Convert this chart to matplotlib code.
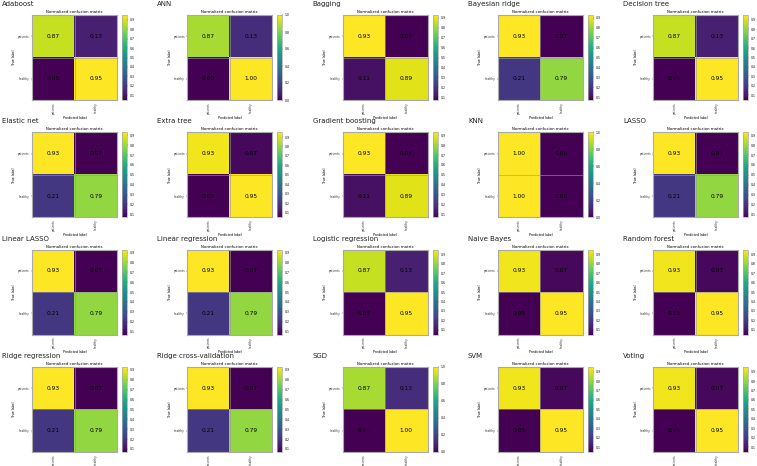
import matplotlib
matplotlib.use("Agg")
import matplotlib.pyplot as plt
import numpy as np

models = ["Adaboost", "ANN", "Bagging", "Bayesian ridge", "Decision tree",
          "Elastic net", "Extra tree", "Gradient boosting", "KNN", "LASSO",
          "Linear LASSO", "Linear regression", "Logistic regression", "Naive Bayes", "Random forest",
          "Ridge regression", "Ridge cross-validation", "SGD", "SVM", "Voting"]

# rows: true label (patients, healthy); columns: predicted label
cm_adaboost = [[0.87, 0.13], [0.05, 0.95]]
cm_ann = [[0.87, 0.13], [0.00, 1.00]]
cm_bagging = [[0.93, 0.07], [0.11, 0.89]]
cm_bayes_ridge = [[0.93, 0.07], [0.21, 0.79]]
cm_decision_tree = [[0.87, 0.13], [0.05, 0.95]]
cm_elastic_net = [[0.93, 0.07], [0.21, 0.79]]
cm_extra_tree = [[0.93, 0.07], [0.05, 0.95]]
cm_grad_boost = [[0.93, 0.07], [0.11, 0.89]]
cm_knn = [[1.00, 0.00], [1.00, 0.00]]
cm_lasso = [[0.93, 0.07], [0.21, 0.79]]
cm_linear_lasso = [[0.93, 0.07], [0.21, 0.79]]
cm_linear_reg = [[0.93, 0.07], [0.21, 0.79]]
cm_logistic = [[0.87, 0.13], [0.05, 0.95]]
cm_naive_bayes = [[0.93, 0.07], [0.05, 0.95]]
cm_random_forest = [[0.93, 0.07], [0.05, 0.95]]
cm_ridge = [[0.93, 0.07], [0.21, 0.79]]
cm_ridge_cv = [[0.93, 0.07], [0.21, 0.79]]
cm_sgd = [[0.87, 0.13], [0.00, 1.00]]
cm_svm = [[0.93, 0.07], [0.05, 0.95]]
cm_voting = [[0.93, 0.07], [0.05, 0.95]]

matrices = [cm_adaboost, cm_ann, cm_bagging, cm_bayes_ridge, cm_decision_tree,
            cm_elastic_net, cm_extra_tree, cm_grad_boost, cm_knn, cm_lasso,
            cm_linear_lasso, cm_linear_reg, cm_logistic, cm_naive_bayes, cm_random_forest,
            cm_ridge, cm_ridge_cv, cm_sgd, cm_svm, cm_voting]

class_labels = ["patients", "healthy"]

W, H = 757, 466
fig = plt.figure(figsize=(W / 100, H / 100), dpi=100)

def px_axes(left, top, w, h):
    return fig.add_axes([left / W, 1 - (top + h) / H, w / W, h / H])

frame_col = "#aaaaaa"
for i, (name, cm) in enumerate(zip(models, matrices)):
    r, c = divmod(i, 5)
    left = 32 + c * 155.3
    top = 15 + r * 117.3
    size = 85
    ax = px_axes(left, top, size, size)
    data = np.array(cm)
    im = ax.imshow(data, cmap="viridis", interpolation="nearest", aspect="auto")
    for (yy, xx), v in np.ndenumerate(data):
        ax.text(xx, yy, f"{v:.2f}", ha="center", va="center", fontsize=4.2, color="black")
    ax.set_xticks(range(2))
    ax.set_yticks(range(2))
    ax.set_xticklabels(class_labels, rotation=90, fontsize=2.1)
    ax.set_yticklabels(class_labels, fontsize=2.1)
    ax.tick_params(length=0.8, width=0.3, pad=0.8, colors="#333333")
    ax.set_xlabel("Predicted label", fontsize=2.3, labelpad=1.2)
    ax.set_ylabel("True label", fontsize=2.3, labelpad=1.2)
    ax.set_title("Normalized confusion matrix", fontsize=2.8, pad=1.5)
    ax.axhline(0.5, color="#999999", lw=0.6, alpha=0.7)
    ax.axvline(0.5, color="#999999", lw=0.6, alpha=0.7)
    for s in ax.spines.values():
        s.set_color(frame_col)
        s.set_linewidth(0.8)
    cax = px_axes(left + 90, top, 5, size)
    cb = fig.colorbar(im, cax=cax)
    cb.ax.tick_params(labelsize=2.2, length=1, width=0.3, pad=1)
    cb.outline.set_edgecolor(frame_col)
    cb.outline.set_linewidth(0.5)
    fig.text((left - 30) / W, 1 - (top - 11) / H, name, fontsize=5.0,
             ha="left", va="center", color="#222222")

fig.savefig("out.png", dpi=100)
